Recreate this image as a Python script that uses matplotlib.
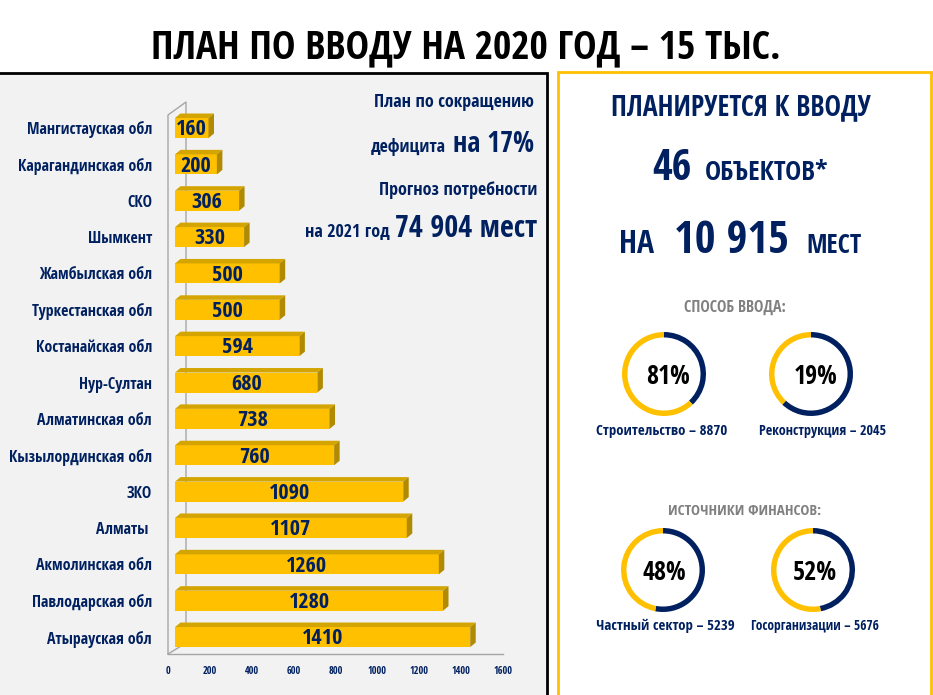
import numpy as np
import matplotlib
matplotlib.use("Agg")
import matplotlib.pyplot as plt
from matplotlib import font_manager as fm
from matplotlib.ft2font import FT2Font
from matplotlib.patches import Polygon, Rectangle

# data
regions = ["Мангистауская обл", "Карагандинская обл", "СКО", "Шымкент",
           "Жамбылская обл", "Туркестанская обл", "Костанайская обл", "Нур-Султан",
           "Алматинская обл", "Кызылординская обл", "ЗКО", "Алматы ",
           "Акмолинская обл", "Павлодарская обл", "Атырауская обл"]
places = [160, 200, 306, 330, 500, 500, 594, 680, 738, 760, 1090, 1107, 1260, 1280, 1410]
xticks = [0, 200, 400, 600, 800, 1000, 1200, 1400, 1600]

donut_pct = ["81%", "19%", "48%", "52%"]
donut_navy_share = [0.38, 0.62, 0.53, 0.47]   # navy arc as drawn
donut_labels = ["Строительство – 8870", "Реконструкция – 2045",
                "Частный сектор – 5239", "Госорганизации – 5676"]

NAVY = "#002060"
GOLD = "#FFC000"
GOLD_TOP = "#D4A500"
GOLD_SIDE = "#B08A00"

W, H = 933, 695
fig = plt.figure(figsize=(W / 100, H / 100), dpi=100)
fig.patch.set_facecolor("white")
renderer = fig.canvas.get_renderer()


def text_width(s, fp):
    t = fig.text(0, 0, s, fontproperties=fp)
    w = t.get_window_extent(renderer).width
    t.remove()
    return w


# narrowest bold sans (plain families only) that has cyrillic
families = ("noto sans", "dejavu sans", "liberation sans", "roboto", "open sans", "lato", "inter")
best, best_w = None, None
for f in fm.fontManager.ttflist:
    name = f.name.lower()
    low = (f.fname + " " + f.name).lower()
    if not name.startswith(families) or "mono" in low or "cjk" in low:
        continue
    if "italic" in low or "oblique" in low or "black" in low or "heavy" in low:
        continue
    wt = f.weight if isinstance(f.weight, int) else (700 if "bold" in str(f.weight) else 400)
    if wt < 600 or wt > 800:
        continue
    try:
        if FT2Font(f.fname).get_char_index(ord("Ж")) == 0:
            continue
    except Exception:
        continue
    fp = fm.FontProperties(fname=f.fname, size=10)
    w = text_width("Мангистауская обл 10 915", fp)
    if best_w is None or w < best_w:
        best, best_w = f.fname, w


def fprop(size):
    if best:
        return fm.FontProperties(fname=best, size=size)
    return fm.FontProperties(family="DejaVu Sans", weight="bold", size=size)


def fit_size(s, width, max_size):
    w10 = text_width(s, fprop(10))
    return min(max_size, 10 * width / w10)


ax0 = fig.add_axes([0, 0, 1, 1])
ax0.set_xlim(0, W)
ax0.set_ylim(H, 0)
ax0.axis("off")


def put(s, x0, x1, base, max_size, color=NAVY, ha="center"):
    size = fit_size(s, x1 - x0, max_size)
    x = {"left": x0, "center": (x0 + x1) / 2, "right": x1}[ha]
    ax0.text(x, base, s, fontproperties=fprop(size), color=color, ha=ha, va="baseline")


# panels
ax0.add_patch(Rectangle((-5, 73), 552, 630, facecolor="#F2F2F2", edgecolor="black", lw=2))
ax0.add_patch(Rectangle((558, 72), 373, 630, facecolor="white", edgecolor=GOLD, lw=2))

# title
put("ПЛАН ПО ВВОДУ НА 2020 ГОД – 15 ТЫС.", 152, 780, 58, 36, color="black")

# left texts
put("План по сокращению", 373, 534, 107, 13, ha="right")
put("дефицита", 369, 446, 152, 13, ha="right")
put("на 17%", 450, 534, 152, 20, ha="right")
put("Прогноз потребности", 368, 537, 195, 13, ha="right")
put("на 2021 год", 290, 390, 237, 13, ha="right")
put("74 904 мест", 395, 537, 237, 25, ha="right")

# right panel texts
put("ПЛАНИРУЕТСЯ К ВВОДУ", 611, 871, 115, 25)
put("46", 652, 692, 180, 35)
put("ОБЪЕКТОВ*", 705, 828, 180, 21, ha="left")
put("НА", 619, 654, 253, 33)
put("10 915", 674, 789, 253, 40)
put("МЕСТ", 806, 861, 253, 27, ha="left")
put("СПОСОБ ВВОДА:", 684, 786, 312, 13, color="#808080")
put("ИСТОЧНИКИ ФИНАНСОВ:", 668, 821, 515, 13, color="#808080")

# donuts
centers = [(664, 374), (811, 374), (663, 570), (813, 570)]
pct_span = [(646, 690), (794, 838), (642, 686), (793, 837)]
pct_base = [384, 384, 580, 580]
lab_span = [(596, 728), (759, 886), (596, 734), (751, 879)]
lab_base = [435, 435, 630, 630]
R = 42
for i, ((cx, cy), share) in enumerate(zip(centers, donut_navy_share)):
    axd = fig.add_axes([(cx - R) / W, 1 - (cy + R) / H, 2 * R / W, 2 * R / H])
    axd.pie([share, 1 - share], startangle=90, counterclock=False,
            colors=[NAVY, GOLD], wedgeprops=dict(width=0.13, linewidth=0))
    axd.set_xlim(-1, 1)
    axd.set_ylim(-1, 1)
    axd.axis("off")
    put(donut_pct[i], pct_span[i][0], pct_span[i][1], pct_base[i], 20, color="black")
    put(donut_labels[i], lab_span[i][0], lab_span[i][1], lab_base[i], 12)

# 3d wall decoration
wall = "#A6A6A6"
ax0.plot([168, 168, 186, 186], [654, 115, 102, 643], color=wall, lw=1)
ax0.plot([168, 186], [654, 643], color=wall, lw=1)
ax0.plot([168, 503], [654, 654], color=wall, lw=1)

# bar chart
x0px, x1px = 168, 503
pitch = 36.36
yc0 = 128
top_px, bot_px = 100, 654
axb = fig.add_axes([x0px / W, 1 - bot_px / H, (x1px - x0px) / W, (bot_px - top_px) / H])
axb.set_xlim(0, 1600)
axb.set_ylim((bot_px - yc0) / pitch, (top_px - yc0) / pitch)
axb.patch.set_alpha(0)
for s in axb.spines.values():
    s.set_visible(False)

ux = 1600 / (x1px - x0px)           # data units per pixel
left = 7 * ux
h = 20 / pitch
dx, dy = 5.5 * ux, 4.5 / pitch
ypos = np.arange(len(places))
axb.barh(ypos, places, left=left, height=h, color=GOLD, edgecolor="none", zorder=3)
val_fp = fprop(fit_size("1410", 46, 16))
for yi, v in zip(ypos, places):
    top = yi - h / 2
    bot = yi + h / 2
    xr = left + v
    axb.add_patch(Polygon([(left, top), (xr, top), (xr + dx, top - dy), (left + dx, top - dy)],
                          closed=True, facecolor=GOLD_TOP, edgecolor="none", zorder=3))
    axb.add_patch(Polygon([(xr, top), (xr + dx, top - dy), (xr + dx, bot - dy), (xr, bot)],
                          closed=True, facecolor=GOLD_SIDE, edgecolor="none", zorder=3))
    axb.text(left + v / 2, yi + 0.05, str(v), fontproperties=val_fp, color=NAVY,
             ha="center", va="center", zorder=4)

# category labels end near x=152 px
lab_fp = fprop(fit_size("Кызылординская обл", 143, 15))
axb.set_yticks(ypos)
axb.set_yticklabels(regions, fontproperties=lab_fp, color=NAVY)
axb.tick_params(axis="y", length=0, pad=(x0px - 152) * 72 / 100)
tick_fp = fprop(fit_size("1600", 19, 9))
axb.set_xticks(xticks)
axb.set_xticklabels([str(t) for t in xticks], fontproperties=tick_fp, color=NAVY)
axb.tick_params(axis="x", length=0, pad=9)

fig.savefig("out.png", dpi=100, facecolor="white")
